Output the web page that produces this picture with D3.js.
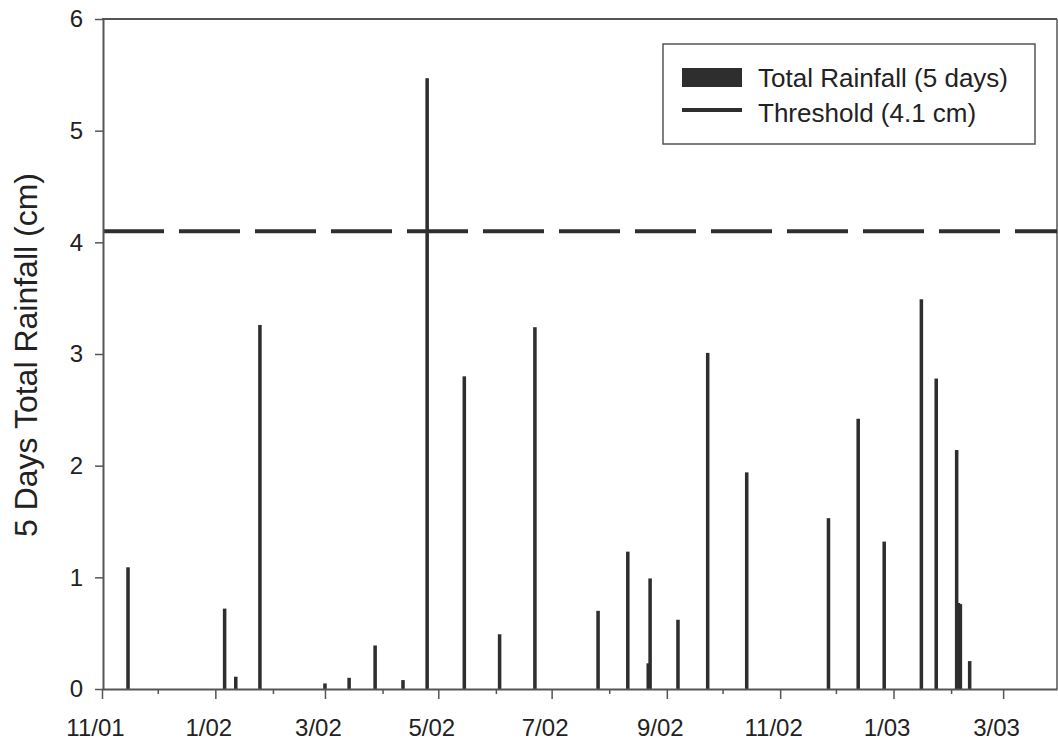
<!DOCTYPE html>
<html>
<head>
<meta charset="utf-8">
<script src="https://cdn.jsdelivr.net/npm/d3@7"></script>
<style>
  html, body { margin: 0; padding: 0; background: #fff; }
  svg { display: block; font-family: "Liberation Sans", Arial, Helvetica, sans-serif; }
</style>
</head>
<body>
<svg id="chart" width="1058" height="743"></svg>
<script>
// ---- data ----
const dates = ["2001-11-15","2002-01-06","2002-01-12","2002-01-25","2002-03-01","2002-03-14",
  "2002-03-28","2002-04-12","2002-04-25","2002-05-15","2002-06-03","2002-06-22","2002-07-26",
  "2002-08-11","2002-08-22","2002-08-23","2002-09-07","2002-09-23","2002-10-14","2002-11-27",
  "2002-12-13","2002-12-27","2003-01-16","2003-01-24","2003-02-04","2003-02-05","2003-02-06",
  "2003-02-11"];
const rainfall = [1.09,0.72,0.11,3.26,0.05,0.10,0.39,0.08,5.47,2.80,0.49,3.24,0.70,
  1.23,0.23,0.99,0.62,3.01,1.94,1.53,2.42,1.32,3.49,2.78,2.14,0.77,0.76,0.25];
const threshold = 4.1;
const yTicks = [0,1,2,3,4,5,6];
const xDomain = ["2001-11-01","2003-03-30"];
const yLabel = "5 Days Total Rainfall (cm)";
const legendLabels = ["Total Rainfall (5 days)", "Threshold (4.1 cm)"];

// ---- layout ----
const svg = d3.select("#chart");
const mLeft = 102, mRight = 1057, mTop = 19, mBottom = 689;
const parse = d3.utcParse("%Y-%m-%d");
const ink = "#2e2e2e";
const frame = "#555";

const x = d3.scaleUtc().domain(xDomain.map(parse)).range([mLeft, mRight]);
const y = d3.scaleLinear().domain([0, 6]).range([mBottom, mTop]);

// frame top & right
svg.append("line").attr("x1", mLeft).attr("x2", mRight).attr("y1", mTop).attr("y2", mTop)
  .attr("stroke", frame).attr("stroke-width", 2);
svg.append("line").attr("x1", mRight).attr("x2", mRight).attr("y1", mTop).attr("y2", mBottom)
  .attr("stroke", frame).attr("stroke-width", 1.5);

// bars
const data = dates.map((d, i) => ({date: parse(d), v: rainfall[i]}));
const dayW = x(parse("2002-01-02")) - x(parse("2002-01-01"));
const barW = dayW * 1.9;
svg.append("g").selectAll("rect").data(data).join("rect")
  .attr("x", d => x(d.date) - barW / 2)
  .attr("width", barW)
  .attr("y", d => y(d.v))
  .attr("height", d => y(0) - y(d.v))
  .attr("fill", ink);

// threshold dashed line
svg.append("line")
  .attr("x1", mLeft + 1).attr("x2", mRight)
  .attr("y1", y(threshold)).attr("y2", y(threshold))
  .attr("stroke", ink).attr("stroke-width", 4)
  .attr("stroke-dasharray", "61,15");

// x axis
const xAxis = d3.axisBottom(x)
  .ticks(d3.utcMonth.every(1))
  .tickSize(10).tickSizeOuter(0).tickPadding(20)
  .tickFormat(d => `${d.getUTCMonth() + 1}/${String(d.getUTCFullYear() % 100).padStart(2, "0")}`);
const gx = svg.append("g").attr("transform", `translate(0,${mBottom})`).call(xAxis);
gx.select(".domain").attr("stroke", frame).attr("stroke-width", 2);
gx.selectAll(".tick line").attr("stroke", frame).attr("stroke-width", 1.5);
gx.selectAll(".tick").filter(d => (d.getUTCMonth() + 1) % 2 === 0)
  .each(function() {
    d3.select(this).select("line").attr("y2", 5);
    d3.select(this).select("text").remove();
  });
gx.selectAll(".tick text").attr("font-size", 24).attr("fill", "#222")
  .attr("dx", -7).attr("font-family", "Liberation Sans, Arial, sans-serif");

// y axis
const yAxis = d3.axisLeft(y).tickValues(yTicks).tickSize(8).tickSizeOuter(0).tickPadding(12)
  .tickFormat(d3.format("d"));
const gy = svg.append("g").attr("transform", `translate(${mLeft + 1},0)`).call(yAxis);
gy.select(".domain").attr("stroke", frame).attr("stroke-width", 2);
gy.selectAll(".tick line").attr("stroke", frame).attr("stroke-width", 1.5);
gy.selectAll(".tick text").attr("font-size", 24).attr("fill", "#222")
  .attr("font-family", "Liberation Sans, Arial, sans-serif");

// y label
svg.append("text")
  .attr("transform", `translate(37,355) rotate(-90)`)
  .attr("text-anchor", "middle")
  .attr("font-size", 32).attr("fill", "#222")
  .text(yLabel);

// legend
const lg = svg.append("g");
lg.append("rect").attr("x", 663).attr("y", 44).attr("width", 372).attr("height", 100)
  .attr("fill", "#fff").attr("stroke", "#555").attr("stroke-width", 1.5);
lg.append("rect").attr("x", 682).attr("y", 68).attr("width", 60).attr("height", 19).attr("fill", ink);
lg.append("line").attr("x1", 682).attr("x2", 742).attr("y1", 110).attr("y2", 110)
  .attr("stroke", ink).attr("stroke-width", 4);
lg.append("text").attr("x", 758).attr("y", 87).attr("font-size", 26).attr("fill", "#222")
  .text(legendLabels[0]);
lg.append("text").attr("x", 758).attr("y", 122).attr("font-size", 26).attr("fill", "#222")
  .text(legendLabels[1]);
</script>
</body>
</html>
